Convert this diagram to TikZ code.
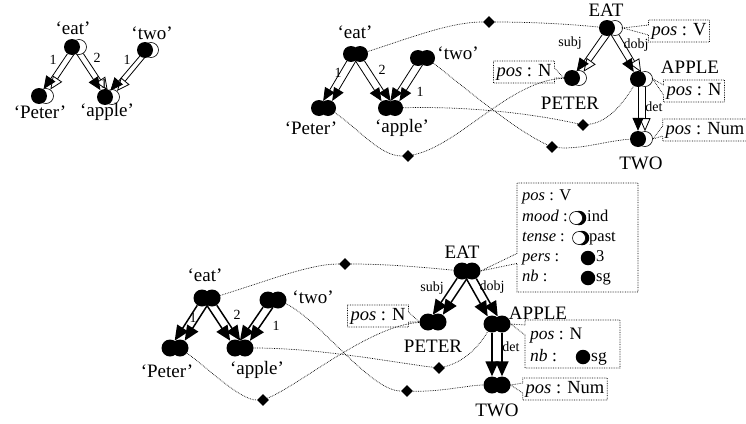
\documentclass[tikz,border=0pt]{standalone}
\usepackage{fontspec}
\setmainfont{Liberation Serif}
\usetikzlibrary{shapes.geometric,shapes.callouts,arrows.meta}
\begin{document}
\begin{tikzpicture}[x=1pt,y=-1pt,
 blk/.style={circle,fill=black,inner sep=0pt,minimum size=16pt},
 wht/.style={circle,draw=black,fill=white,line width=0.6pt,inner sep=0pt,minimum size=15pt},
 blkb/.style={circle,fill=black,inner sep=0pt,minimum size=17pt},
 blks/.style={circle,fill=black,inner sep=0pt,minimum size=14.5pt},
 whts/.style={circle,draw=black,fill=white,line width=0.6pt,inner sep=0pt,minimum size=13pt},
 lbl/.style={font=\fontsize{19}{21}\selectfont,inner sep=0pt},
 bt/.style={font=\fontsize{16.5}{18}\selectfont,inner sep=0pt,anchor=west,text height=11pt,text depth=4pt},
 bta/.style={font=\fontsize{17.5}{19}\selectfont,inner sep=0pt,anchor=west,text height=12pt,text depth=4pt},
 sml/.style={font=\fontsize{14}{16}\selectfont,inner sep=0pt},
 dia/.style={diamond,fill=black,inner sep=0pt,minimum size=12pt},
 dotl/.style={densely dotted,line width=0.7pt},
 ar/.style={-{Triangle[length=13pt,width=11pt]},line width=0.8pt},
 arw/.style={-{Triangle[length=13pt,width=11pt,fill=white]},line width=0.8pt},
 arb/.style={-{Triangle[length=15pt,width=13pt]},line width=1.5pt},
 co/.style={rectangle callout,draw,densely dotted,line width=0.7pt,font=\fontsize{18.5}{20}\selectfont,inner sep=3pt,callout pointer width=10pt,text height=12pt,text depth=4pt},
]
\useasboundingbox (0,0) rectangle (746,423);

% ---------- Panel 1 ----------
\node[wht] (aEw) at (79,47) {};
\node[blk] (aEb) at (72,47) {};
\node[wht] (aTw) at (151,50) {};
\node[blk] (aTb) at (145,50) {};
\node[wht] (aPw) at (46,96) {};
\node[blk] (aPb) at (39,96) {};
\node[wht] (aAw) at (112,97) {};
\node[blk] (aAb) at (105,97) {};
\node[lbl] (aEl) at (73,28) {‘eat’};
\node[lbl] (aTl) at (152,33) {‘two’};
\node[lbl] (aPl) at (40,112) {‘Peter’};
\node[lbl] (aAl) at (107,112) {‘apple’};
\draw[arw] (aEw) -- (aPw);
\draw[ar] (aEb) -- (aPb);
\draw[arw] (aEw) -- (aAw);
\draw[ar] (aEb) -- (aAb);
\draw[arw] (aTw) -- (aAw);
\draw[ar] (aTb) -- (aAb);
\node[sml] (aL1) at (53,60) {1};
\node[sml] (aL2) at (97,58) {2};
\node[sml] (aL3) at (127,60) {1};
\node[sml] (aL4) at (104,84) {1};

% ---------- Panel 2 ----------
\node[blk] (bEa) at (351,54) {};
\node[blk] (bEb) at (360,54) {};
\node[blk] (bTa) at (418,58) {};
\node[blk] (bTb) at (427,58) {};
\node[blk] (bPa) at (319,108) {};
\node[blk] (bPb) at (328,108) {};
\node[blk] (bAa) at (386,108) {};
\node[blk] (bAb) at (395,108) {};
\node[lbl] (bEl) at (355,32) {‘eat’};
\node[lbl] (bTl) at (458,53) {‘two’};
\node[lbl] (bPl) at (311,128) {‘Peter’};
\node[lbl] (bAl) at (402,128) {‘apple’};
\draw[ar] (bEa) -- (bPa);
\draw[ar] (bEb) -- (bPb);
\draw[ar] (bEa) -- (bAa);
\draw[ar] (bEb) -- (bAb);
\draw[ar] (bTa) -- (bAa);
\draw[ar] (bTb) -- (bAb);
\node[sml] (bL1) at (338,73) {1};
\node[sml] (bL2) at (382,70) {2};
\node[sml] (bL3) at (420,92) {1};

\node[wht] (cEw) at (615,28) {};
\node[blk] (cEb) at (607,28) {};
\node[wht] (cPw) at (579,78) {};
\node[blk] (cPb) at (572,78) {};
\node[wht] (cAw) at (645,79) {};
\node[blk] (cAb) at (638,79) {};
\node[wht] (cTw) at (645,139) {};
\node[blk] (cTb) at (638,139) {};
\node[lbl] (cEl) at (606,10) {EAT};
\node[lbl] (cPl) at (570,103) {PETER};
\node[lbl] (cAl) at (690,67) {APPLE};
\node[lbl] (cTl) at (641,163) {TWO};
\draw[arw] (cEw) -- (cPw);
\draw[ar] (cEb) -- (cPb);
\draw[arw] (cEw) -- (cAw);
\draw[ar] (cEb) -- (cAb);
\draw[arw] (cAw) -- (cTw);
\draw[ar] (cAb) -- (cTb);
\node[sml] (cL1) at (570,43) {subj};
\node[sml] (cL2) at (636,45) {dobj};
\node[sml] (cL3) at (654,107) {det};

\node[dia] (d1) at (489,22) {};
\node[dia] (d2) at (408,156) {};
\node[dia] (d3) at (583,125) {};
\node[dia] (d4) at (552,147) {};
\draw[dotl] (bEb) .. controls (410,38) and (450,22) .. (d1);
\draw[dotl] (d1) .. controls (530,22) and (570,24) .. (cEb);
\draw[dotl] (bPb) .. controls (360,130) and (380,156) .. (d2);
\draw[dotl] (d2) .. controls (460,145) and (510,80) .. (cPb);
\draw[dotl] (bAb) .. controls (470,106) and (535,114) .. (d3);
\draw[dotl] (d3) .. controls (610,122) and (625,100) .. (cAb);
\draw[dotl] (bTb) .. controls (470,92) and (515,130) .. (d4);
\draw[dotl] (d4) .. controls (580,150) and (610,140) .. (cTb);

\node[co,callout absolute pointer={(cEw.east)}] (bxV) at (679,31) {\textit{pos} : V};
\node[co,callout absolute pointer={(cPb.west)}] (bxN1) at (524,72) {\textit{pos} : N};
\node[co,callout absolute pointer={(cAw.east)}] (bxN2) at (694,91) {\textit{pos} : N};
\node[co,callout absolute pointer={(cTw.east)}] (bxNum) at (705,130) {\textit{pos} : Num};

% ---------- Panel 3 ----------
\node[blkb] (eA) at (202,298) {};
\node[blkb] (eB) at (212,298) {};
\node[blkb] (tA) at (268,300) {};
\node[blkb] (tB) at (278,300) {};
\node[blkb] (pA) at (170,348) {};
\node[blkb] (pB) at (180,348) {};
\node[blkb] (qA) at (235,348) {};
\node[blkb] (qB) at (245,348) {};
\node[lbl] (eL) at (205,275) {‘eat’};
\node[lbl] (tL) at (313,297) {‘two’};
\node[lbl] (pL) at (167,371) {‘Peter’};
\node[lbl] (qL) at (257,370) {‘apple’};
\draw[arb] (eA) -- (pA);
\draw[arb] (eB) -- (pB);
\draw[arb] (eA) -- (qA);
\draw[arb] (eB) -- (qB);
\draw[arb] (tA) -- (qA);
\draw[arb] (tB) -- (qB);
\node[sml] (eL1) at (193,318) {1};
\node[sml] (eL2) at (237,315) {2};
\node[sml] (eL3) at (276,326) {1};

\node[blkb] (EA) at (462,271) {};
\node[blkb] (EB) at (472,271) {};
\node[blkb] (PA) at (428,322) {};
\node[blkb] (PB) at (438,322) {};
\node[blkb] (AA) at (492,324) {};
\node[blkb] (AB) at (502,324) {};
\node[blkb] (TA) at (492,385) {};
\node[blkb] (TB) at (502,385) {};
\node[lbl] (EL) at (462,252) {EAT};
\node[lbl] (PL) at (433,346) {PETER};
\node[lbl] (AL) at (538,313) {APPLE};
\node[lbl] (TL) at (497,410) {TWO};
\draw[arb] (EA) -- (PA);
\draw[arb] (EB) -- (PB);
\draw[arb] (EA) -- (AA);
\draw[arb] (EB) -- (AB);
\draw[arb] (AA) -- (TA);
\draw[arb] (AB) -- (TB);
\node[sml] (EL1) at (432,288) {subj};
\node[sml] (EL2) at (492,287) {dobj};
\node[sml] (EL3) at (511,347) {det};

\node[dia] (f1) at (345,264) {};
\node[dia] (f2) at (263,400) {};
\node[dia] (f3) at (439,368) {};
\node[dia] (f4) at (407,391) {};
\draw[dotl] (eB) .. controls (270,280) and (310,264) .. (f1);
\draw[dotl] (f1) .. controls (390,264) and (430,268) .. (EA);
\draw[dotl] (pB) .. controls (210,370) and (240,400) .. (f2);
\draw[dotl] (f2) .. controls (300,385) and (370,325) .. (PA);
\draw[dotl] (qB) .. controls (320,348) and (390,362) .. (f3);
\draw[dotl] (f3) .. controls (465,362) and (480,345) .. (AA);
\draw[dotl] (tB) .. controls (320,320) and (370,391) .. (f4);
\draw[dotl] (f4) .. controls (440,392) and (470,385) .. (TA);

\node[co,callout absolute pointer={(PA.west)}] (g1) at (378,316) {\textit{pos} : N};
\node[co,minimum width=121pt,minimum height=109pt,callout absolute pointer={(EB.east)}] (g2) at (577.5,237.5) {};
\node[co,minimum width=95pt,minimum height=48pt,callout absolute pointer={(AB.east)}] (g3) at (572.5,344) {};
\node[co,callout absolute pointer={(TB.east)}] (g4) at (565,389) {\textit{pos} : Num};

\node[bt] (h1) at (522,197) {\textit{pos} : V};
\node[bt] (h2) at (522,218) {\textit{mood} :};
\node[blks] (h2b) at (579,218) {};
\node[whts] (h2w) at (576,218) {};
\node[bt] (h2t) at (587,218) {ind};
\node[bt] (h3) at (522,238) {\textit{tense} :};
\node[blks] (h3b) at (582,238) {};
\node[whts] (h3w) at (579,238) {};
\node[bt] (h3t) at (589,238) {past};
\node[bt] (h4) at (522,258) {\textit{pers} :};
\node[blks] (h4b) at (588,258) {};
\node[bt] (h4t) at (596,258) {3};
\node[bt] (h5) at (522,278) {\textit{nb} :};
\node[blks] (h5b) at (588,278) {};
\node[bt] (h5t) at (596,278) {sg};

\node[bta] (k1) at (530,335) {\textit{pos} : N};
\node[bta] (k2) at (530,357) {\textit{nb} :};
\node[blks] (k2b) at (583,357) {};
\node[bta] (k2t) at (591,357) {sg};
\end{tikzpicture}
\end{document}
